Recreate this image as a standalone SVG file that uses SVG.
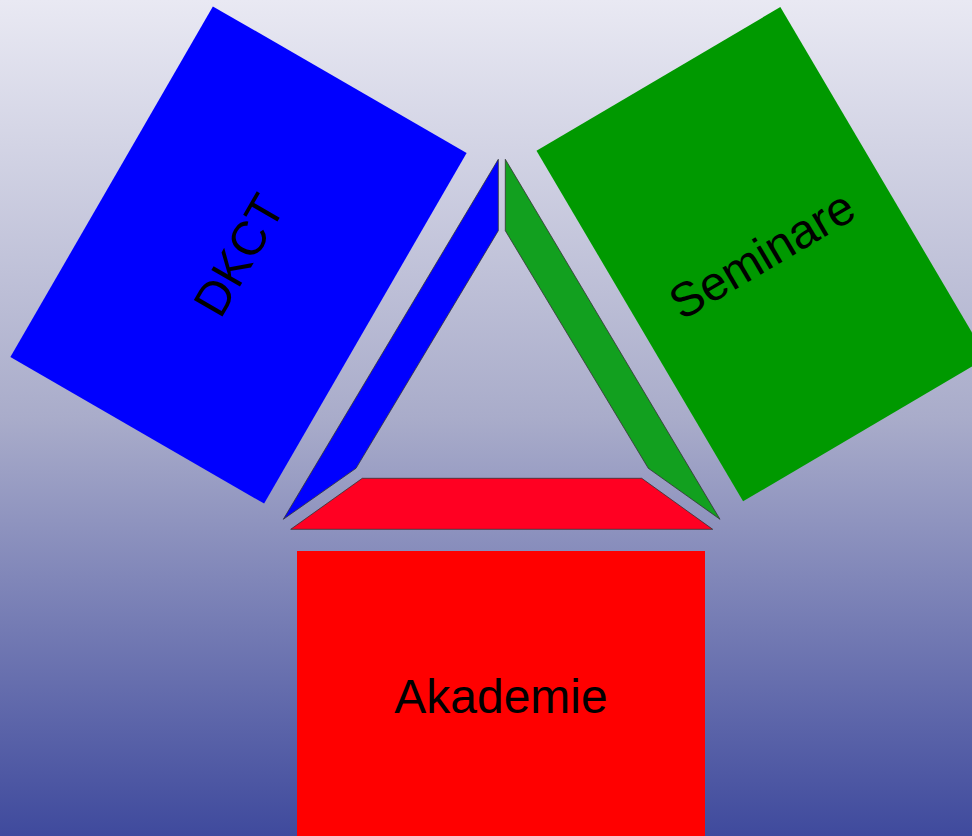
<svg xmlns="http://www.w3.org/2000/svg" width="972" height="836" viewBox="0 0 972 836">
  <defs>
    <linearGradient id="bg" x1="0" y1="0" x2="0" y2="1">
      <stop offset="0" stop-color="#e9e9f3"/>
      <stop offset="0.5" stop-color="#a9acca"/>
      <stop offset="1" stop-color="#3f4a9d"/>
    </linearGradient>
    <style>
      .lbl { font-family: "Liberation Sans", Arial, sans-serif; font-size: 48px; fill: #000; text-anchor: middle; }
      .strip { stroke: #333; stroke-width: 0.8; stroke-linejoin: miter; }
    </style>
  </defs>
  <rect x="0" y="0" width="972" height="836" fill="url(#bg)"/>

  <g id="node-dkct" transform="translate(238.5,255) rotate(30)">
    <rect x="-146.5" y="-202.5" width="293" height="405" fill="#0000ff"/>
    <text class="lbl" transform="rotate(-90)" x="0" y="17">DKCT</text>
  </g>

  <g id="node-seminare" transform="translate(761.7,254.2) rotate(-30.5)">
    <rect x="-141.5" y="-203.5" width="283" height="407" fill="#009900"/>
    <text class="lbl" x="0" y="17">Seminare</text>
  </g>

  <g id="node-akademie">
    <rect x="297" y="551" width="408" height="292" fill="#ff0000"/>
    <text class="lbl" x="501" y="713">Akademie</text>
  </g>

  <g id="triangle">
    <polygon class="strip" fill="#0000ff" points="498.3,159.3 498.3,230.7 356,468.3 283.3,519.3"/>
    <polygon class="strip" fill="#12a01f" points="505.3,159.3 505.3,230.7 648.3,468.3 720,519.3"/>
    <polygon class="strip" fill="#ff0022" points="362.3,478.3 641.7,478.3 712.7,529.3 290.7,529.3"/>
  </g>
</svg>
